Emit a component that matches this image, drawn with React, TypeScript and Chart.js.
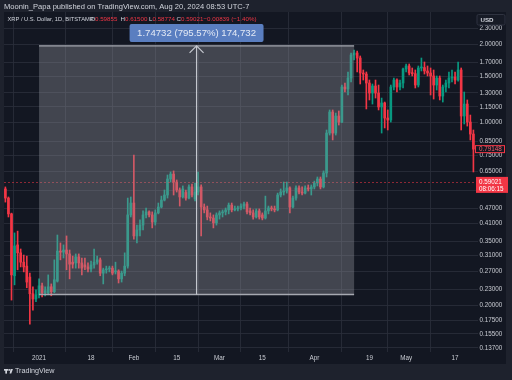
import { useEffect, useRef } from "react";
import { Chart, registerables } from "chart.js";

Chart.register(...registerables);

// ---------------- data ----------------
const FIRST_DAY = "2020-12-21"; // first daily candle
const AXIS_ORIGIN = "2021-01-01";

const openPrices = [
  0.557, 0.514, 0.447, 0.259, 0.34, 0.317, 0.292, 0.282, 0.256, 0.221, 0.211,
  0.219, 0.237, 0.223, 0.223, 0.235, 0.225, 0.247, 0.322, 0.319, 0.325,
  0.314, 0.292, 0.29, 0.306, 0.29, 0.285, 0.28, 0.275, 0.285, 0.292,
  0.298, 0.265, 0.273, 0.275, 0.277, 0.268, 0.27, 0.252, 0.265, 0.282,
  0.443, 0.492, 0.368, 0.388, 0.405, 0.443, 0.455, 0.443, 0.416, 0.451,
  0.475, 0.505, 0.528, 0.608, 0.635, 0.592, 0.552, 0.519, 0.54, 0.514,
  0.567, 0.51, 0.542, 0.567, 0.475, 0.463, 0.435, 0.431, 0.413, 0.443,
  0.451, 0.455, 0.463, 0.483, 0.463, 0.467, 0.471, 0.479, 0.488, 0.459,
  0.451, 0.435, 0.459, 0.443, 0.431, 0.459, 0.471, 0.467, 0.463, 0.528,
  0.542, 0.547, 0.562, 0.475, 0.514, 0.562, 0.542, 0.537, 0.562, 0.557,
  0.567, 0.587, 0.608, 0.567, 0.641, 0.912, 1.098, 0.912, 1.06, 1.005,
  1.369, 1.345, 1.482, 1.816, 1.848, 1.768, 1.549, 1.535, 1.418, 1.298,
  1.381, 1.298, 1.148, 1.189, 1.041, 1.023, 1.369, 1.456, 1.369, 1.418,
  1.605, 1.648, 1.549, 1.54, 1.393, 1.619, 1.625, 1.577, 1.549, 1.509,
  1.393, 1.482, 1.264, 1.369, 1.418, 1.482, 1.495, 1.456, 1.591, 1.06,
  1.178, 1.005, 0.904,
];
const highPrices = [
  0.567, 0.519, 0.45, 0.378, 0.384, 0.328, 0.311, 0.308, 0.265, 0.235, 0.229,
  0.252, 0.243, 0.235, 0.261, 0.241, 0.298, 0.371, 0.346, 0.34, 0.368,
  0.325, 0.308, 0.314, 0.314, 0.303, 0.303, 0.29, 0.295, 0.328, 0.308,
  0.303, 0.277, 0.282, 0.282, 0.282, 0.292, 0.273, 0.27, 0.317, 0.514,
  0.519, 0.751, 0.405, 0.424, 0.459, 0.471, 0.459, 0.455, 0.463, 0.492,
  0.523, 0.552, 0.63, 0.647, 0.653, 0.603, 0.562, 0.572, 0.552, 0.577,
  0.582, 0.587, 0.647, 0.577, 0.488, 0.479, 0.451, 0.443, 0.451, 0.459,
  0.463, 0.471, 0.492, 0.492, 0.479, 0.479, 0.488, 0.496, 0.496, 0.471,
  0.463, 0.467, 0.467, 0.451, 0.523, 0.479, 0.479, 0.479, 0.537, 0.557,
  0.592, 0.592, 0.567, 0.523, 0.572, 0.572, 0.567, 0.572, 0.577, 0.577,
  0.597, 0.619, 0.619, 0.653, 0.937, 1.118, 1.118, 1.088, 1.108, 1.393,
  1.418, 1.563, 1.848, 1.897, 1.881, 1.8, 1.591, 1.563, 1.456, 1.406,
  1.456, 1.393, 1.242, 1.199, 1.118, 1.393, 1.482, 1.47, 1.456, 1.619,
  1.677, 1.677, 1.619, 1.591, 1.648, 1.768, 1.707, 1.648, 1.619, 1.591,
  1.509, 1.509, 1.393, 1.456, 1.563, 1.591, 1.563, 1.707, 1.619, 1.31,
  1.221, 1.069, 0.937,
];
const lowPrices = [
  0.496, 0.435, 0.209, 0.239, 0.273, 0.28, 0.268, 0.233, 0.169, 0.191, 0.206,
  0.213, 0.215, 0.217, 0.219, 0.217, 0.223, 0.245, 0.298, 0.303, 0.273,
  0.252, 0.277, 0.277, 0.277, 0.261, 0.273, 0.268, 0.268, 0.277, 0.287,
  0.259, 0.241, 0.265, 0.268, 0.261, 0.263, 0.243, 0.245, 0.259, 0.277,
  0.435, 0.358, 0.346, 0.368, 0.388, 0.431, 0.435, 0.395, 0.405, 0.447,
  0.471, 0.501, 0.514, 0.592, 0.528, 0.542, 0.479, 0.514, 0.505, 0.51,
  0.519, 0.501, 0.528, 0.368, 0.451, 0.424, 0.42, 0.395, 0.405, 0.427,
  0.435, 0.443, 0.447, 0.455, 0.459, 0.459, 0.463, 0.467, 0.447, 0.443,
  0.427, 0.431, 0.427, 0.424, 0.427, 0.447, 0.459, 0.455, 0.459, 0.519,
  0.528, 0.537, 0.451, 0.471, 0.505, 0.533, 0.528, 0.533, 0.547, 0.528,
  0.557, 0.572, 0.557, 0.562, 0.619, 0.896, 0.858, 0.896, 0.979, 1.0,
  1.31, 1.276, 1.431, 1.737, 1.563, 1.406, 1.456, 1.128, 1.221, 1.178,
  1.242, 1.118, 0.912, 0.954, 0.937, 1.005, 1.333, 1.31, 1.333, 1.357,
  1.563, 1.522, 1.509, 1.357, 1.369, 1.577, 1.535, 1.509, 1.276, 1.231,
  1.333, 1.221, 1.199, 1.31, 1.357, 1.431, 1.406, 1.44, 0.937, 0.988,
  0.97, 0.858, 0.647,
];
const closePrices = [
  0.514, 0.447, 0.261, 0.337, 0.317, 0.292, 0.28, 0.245, 0.221, 0.211, 0.219,
  0.237, 0.223, 0.227, 0.235, 0.225, 0.25, 0.322, 0.319, 0.325, 0.314,
  0.287, 0.287, 0.306, 0.29, 0.277, 0.28, 0.275, 0.285, 0.292, 0.298,
  0.265, 0.273, 0.275, 0.277, 0.265, 0.27, 0.252, 0.265, 0.282, 0.443,
  0.492, 0.368, 0.388, 0.405, 0.443, 0.455, 0.443, 0.416, 0.451, 0.475,
  0.505, 0.528, 0.608, 0.635, 0.592, 0.552, 0.519, 0.557, 0.514, 0.567,
  0.528, 0.542, 0.567, 0.475, 0.463, 0.435, 0.431, 0.413, 0.443, 0.451,
  0.455, 0.463, 0.483, 0.463, 0.467, 0.471, 0.479, 0.488, 0.455, 0.451,
  0.435, 0.459, 0.435, 0.431, 0.459, 0.471, 0.467, 0.463, 0.528, 0.542,
  0.547, 0.562, 0.475, 0.514, 0.562, 0.542, 0.537, 0.562, 0.557, 0.567,
  0.587, 0.608, 0.567, 0.641, 0.912, 1.098, 0.912, 1.06, 1.005, 1.369,
  1.345, 1.482, 1.816, 1.848, 1.768, 1.549, 1.535, 1.418, 1.298, 1.381,
  1.298, 1.148, 1.189, 1.041, 1.023, 1.369, 1.456, 1.369, 1.418, 1.605,
  1.648, 1.549, 1.54, 1.393, 1.619, 1.625, 1.577, 1.549, 1.509, 1.393,
  1.482, 1.264, 1.369, 1.418, 1.482, 1.495, 1.456, 1.591, 1.06, 1.178,
  1.005, 0.904, 0.79148,
];

const priceTicks = [2.3, 2.0, 1.7, 1.5, 1.3, 1.15, 1.0, 0.85, 0.75, 0.65, 0.55, 0.47, 0.41, 0.35, 0.31, 0.27, 0.23, 0.2, 0.175, 0.155, 0.137];
const timeTickDates = ["2021-01-01", "2021-01-18", "2021-02-01", "2021-02-15", "2021-03-01", "2021-03-15", "2021-04-01", "2021-04-19", "2021-05-01", "2021-05-17"];
const timeTickLabels = ["2021", "18", "Feb", "15", "Mar", "15", "Apr", "19", "May", "17"];

const lastPrice = 0.59021;
const lastPriceCountdown = "08:06:15";
const closeMarker = 0.79148;
const measureFrom = { date: "2021-01-01", price: 0.21963 };
const measureTo = { date: "2021-04-14", price: 1.96695 };
const measureLabel = "1.74732 (795.57%) 174,732";
const headerText = "Moonin_Papa published on TradingView.com, Aug 20, 2024 08:53 UTC-7";
const legendTitle = "XRP / U.S. Dollar, 1D, BITSTAMP";
const legendParts: [string, string, number][] = [
  ["O", "light", 90.5],
  ["0.59855", "red", 95],
  ["H", "light", 120.5],
  ["0.61500", "red", 125],
  ["L", "light", 149],
  ["0.58774", "red", 152.5],
  ["C", "light", 176.5],
  ["0.59021", "red", 181],
  ["\u22120.00839 (\u22121.40%)", "red", 203.5],
];

// ---------------- style ----------------
const FONT = '"Liberation Sans", Arial, sans-serif';
const UP = "#089981";
const DOWN = "#f23645";
const OUTER_BG = "#1e222d";
const PANEL_BG = "#131722";
const GRID = "rgba(42,46,57,0.85)";
const TEXT = "#c9ccd3";

const dayIndex = (s: string) =>
  Math.round((Date.parse(s + "T00:00:00Z") - Date.parse(AXIS_ORIGIN + "T00:00:00Z")) / 86400000);

const firstIdx = dayIndex(FIRST_DAY);
const candleDays = openPrices.map((_, i) => firstIdx + i);
const candleColors = openPrices.map((o, i) => (closePrices[i] >= o ? UP : DOWN));
const timeTickDays = timeTickDates.map(dayIndex);

function txt(ctx: CanvasRenderingContext2D, s: string, x: number, y: number, size: number, color: string, align: CanvasTextAlign = "left", weight = "normal") {
  ctx.font = `${weight} ${size}px ${FONT}`;
  ctx.fillStyle = color;
  ctx.textAlign = align;
  ctx.textBaseline = "middle";
  ctx.fillText(s, x, y);
}

const framePlugin = {
  id: "tvFrame",
  beforeDraw(chart: any) {
    const { ctx, chartArea, scales } = chart;
    ctx.save();
    ctx.fillStyle = OUTER_BG;
    ctx.fillRect(0, 0, chart.width, chart.height);
    ctx.fillStyle = PANEL_BG;
    const right = scales.y.right;
    const bottom = scales.x.bottom;
    ctx.fillRect(chartArea.left, chartArea.top, right - chartArea.left, bottom - chartArea.top);
    ctx.restore();
  },
  afterDatasetsDraw(chart: any) {
    const { ctx, chartArea, scales } = chart;
    const xs = scales.x;
    const ys = scales.y;
    ctx.save();
    // last price dashed line
    const py = ys.getPixelForValue(lastPrice);
    ctx.strokeStyle = "rgba(242,54,69,0.55)";
    ctx.lineWidth = 1;
    ctx.setLineDash([2, 2]);
    ctx.beginPath();
    ctx.moveTo(chartArea.left, Math.round(py) + 0.5);
    ctx.lineTo(chartArea.right, Math.round(py) + 0.5);
    ctx.stroke();
    ctx.setLineDash([]);

    // date & price range tool
    const x1 = xs.getPixelForValue(dayIndex(measureFrom.date));
    const x2 = xs.getPixelForValue(dayIndex(measureTo.date));
    const yTop = ys.getPixelForValue(measureTo.price);
    const yBot = ys.getPixelForValue(measureFrom.price);
    ctx.fillStyle = "rgba(150,153,162,0.36)";
    ctx.fillRect(x1, yTop, x2 - x1, yBot - yTop);
    ctx.strokeStyle = "#a6a9b1";
    ctx.lineWidth = 1.4;
    ctx.beginPath();
    ctx.moveTo(x1, yTop);
    ctx.lineTo(x2, yTop);
    ctx.moveTo(x1, yBot);
    ctx.lineTo(x2, yBot);
    ctx.stroke();
    const cx = (x1 + x2) / 2;
    ctx.strokeStyle = "#c4c7ce";
    ctx.lineWidth = 1.2;
    ctx.beginPath();
    ctx.moveTo(cx, yBot);
    ctx.lineTo(cx, yTop);
    ctx.moveTo(cx - 7, yTop + 7);
    ctx.lineTo(cx, yTop);
    ctx.lineTo(cx + 7, yTop + 7);
    ctx.stroke();
    const fs = 9.6;
    ctx.font = `${fs}px ${FONT}`;
    const tw = ctx.measureText(measureLabel).width;
    const bw = tw + 15;
    const bh = 18;
    const by = yTop - 4 - bh;
    ctx.fillStyle = "#5a7ec0";
    ctx.beginPath();
    ctx.roundRect(cx - bw / 2, by, bw, bh, 2);
    ctx.fill();
    txt(ctx, measureLabel, cx, by + bh / 2 + 0.5, fs, "#e4eaf5", "center");
    ctx.restore();
  },
  afterDraw(chart: any) {
    const { ctx, scales } = chart;
    const ys = scales.y;
    ctx.save();
    // header
    txt(ctx, headerText, 4, 6.5, 7.55, "#d1d4dc");
    // legend
    txt(ctx, legendTitle, 7.5, 19.5, 5.75, "#d1d4dc");
    for (const [s, c, x] of legendParts) {
      txt(ctx, s, x, 19.5, 6.2, c === "red" ? DOWN : "#d1d4dc");
    }
    // USD box
    ctx.fillStyle = "#171b26";
    ctx.strokeStyle = "#2f3340";
    ctx.lineWidth = 1;
    ctx.beginPath();
    ctx.roundRect(477, 14.5, 28, 10.5, 1.5);
    ctx.fill();
    ctx.stroke();
    txt(ctx, "USD", 480.5, 20, 6.2, "#d1d4dc", "left", "bold");
    // close marker box
    const my = ys.getPixelForValue(closeMarker);
    ctx.fillStyle = PANEL_BG;
    ctx.fillRect(ys.left - 3, my - 3.5, 30, 7);
    ctx.strokeStyle = DOWN;
    ctx.strokeRect(ys.left - 2.5, my - 3.5, 29, 7);
    txt(ctx, closeMarker.toFixed(5), ys.left + 1, my + 0.3, 6.3, "#f5606c");
    // last price box
    const py = ys.getPixelForValue(lastPrice);
    ctx.fillStyle = DOWN;
    ctx.fillRect(ys.left - 2, py - 5.5, 32, 16);
    txt(ctx, lastPrice.toFixed(5), ys.left + 1, py + 0.3, 6.3, "#ffffff");
    txt(ctx, lastPriceCountdown, ys.left + 1, py + 7, 6.3, "#ffffff");
    // bottom branding
    ctx.fillStyle = "#d1d4dc";
    ctx.fillRect(4, 369, 4.2, 1.7);
    ctx.fillRect(5.3, 369, 1.7, 4.6);
    ctx.beginPath();
    ctx.arc(9.3, 369.9, 0.95, 0, Math.PI * 2);
    ctx.fill();
    ctx.beginPath();
    ctx.moveTo(10.6, 369);
    ctx.lineTo(12.9, 369);
    ctx.lineTo(11.3, 373.6);
    ctx.lineTo(9.6, 373.6);
    ctx.closePath();
    ctx.fill();
    txt(ctx, "TradingView", 15, 371.5, 7.2, "#d1d4dc");
    ctx.restore();
  },
};

export default function App() {
  const ref = useRef<HTMLCanvasElement>(null);
  useEffect(() => {
    document.body.style.margin = "0";
    const canvas = ref.current!;
    const chart = new Chart(canvas, {
      type: "bar",
      data: {
        datasets: [
          {
            label: "body",
            data: candleDays.map((d, i) => ({ x: d, y: [openPrices[i], closePrices[i]] })) as any,
            backgroundColor: candleColors,
            barThickness: 2,
            maxBarThickness: 2,
            minBarLength: 1,
            grouped: false,
            borderWidth: 0,
          },
          {
            label: "wick",
            data: candleDays.map((d, i) => ({ x: d, y: [lowPrices[i], highPrices[i]] })) as any,
            backgroundColor: candleColors,
            barThickness: 1,
            maxBarThickness: 1,
            grouped: false,
            borderWidth: 0,
          },
        ],
      },
      options: {
        animation: false,
        responsive: false,
        devicePixelRatio: 1,
        layout: { padding: { left: 4, right: 6, top: 12, bottom: 16 } },
        plugins: { legend: { display: false }, tooltip: { enabled: false } },
        scales: {
          x: {
            type: "linear",
            min: firstIdx - 0.45,
            max: candleDays[candleDays.length - 1] + 1.5,
            offset: false,
            grid: { color: GRID, drawTicks: false, lineWidth: 1 },
            border: { display: false },
            ticks: {
              autoSkip: false,
              maxRotation: 0,
              padding: 2.5,
              color: TEXT,
              font: { size: 6.3, family: FONT },
              callback: (v: any) => {
                const i = timeTickDays.indexOf(Number(v));
                return i >= 0 ? timeTickLabels[i] : "";
              },
            },
            afterBuildTicks: (scale: any) => {
              scale.ticks = timeTickDays.map((v) => ({ value: v }));
            },
            afterFit: (scale: any) => {
              scale.height = 12;
            },
          },
          y: {
            type: "logarithmic",
            position: "right",
            min: 0.1322,
            max: 2.653,
            grid: { color: GRID, drawTicks: false, lineWidth: 1 },
            border: { display: false },
            ticks: {
              autoSkip: false,
              padding: 1.5,
              color: TEXT,
              font: { size: 6.3, family: FONT },
              callback: (v: any) => Number(v).toFixed(5),
            },
            afterBuildTicks: (scale: any) => {
              scale.ticks = priceTicks.map((v) => ({ value: v }));
            },
            afterFit: (scale: any) => {
              scale.width = 28;
            },
          },
        },
      },
      plugins: [framePlugin],
    });
    return () => chart.destroy();
  }, []);
  return (
    <div style={{ width: 512, height: 380 }}>
      <canvas ref={ref} width={512} height={380} style={{ display: "block" }} />
    </div>
  );
}
